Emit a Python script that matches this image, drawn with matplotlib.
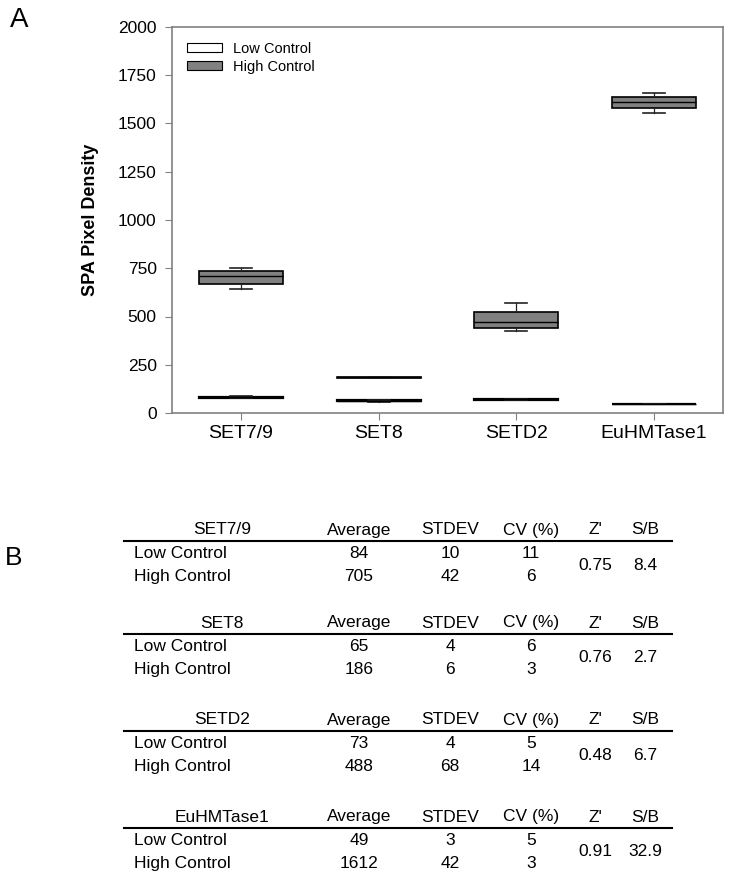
import numpy as np
import matplotlib
matplotlib.use('Agg')
import matplotlib.pyplot as plt
from matplotlib.patches import Patch

plt.rcParams['font.family'] = ['Liberation Sans', 'DejaVu Sans']

# panel A: box statistics
groups = ['SET7/9', 'SET8', 'SETD2', 'EuHMTase1']
low_whislo = [76, 58, 67, 45]
low_q1 = [79, 61, 69, 46]
low_med = [81, 63, 71, 47]
low_q3 = [83, 65, 73, 48]
low_whishi = [86, 67, 75, 49]
high_whislo = [644, 180, 425, 1552]
high_q1 = [667, 182, 440, 1578]
high_med = [711, 184, 471, 1609]
high_q3 = [736, 186, 523, 1635]
high_whishi = [751, 188, 568, 1659]
yticks = [0, 250, 500, 750, 1000, 1250, 1500, 1750, 2000]

# panel B: summary table
tbl_cols = ['Average', 'STDEV', 'CV (%)', "Z'", 'S/B']
tbl_rows = ['Low Control', 'High Control']
tbl_avg = [[84, 705], [65, 186], [73, 488], [49, 1612]]
tbl_sd = [[10, 42], [4, 6], [4, 68], [3, 42]]
tbl_cv = [[11, 6], [6, 3], [5, 14], [5, 3]]
tbl_z = ['0.75', '0.76', '0.48', '0.91']
tbl_sb = ['8.4', '2.7', '6.7', '32.9']


def make_stats(wlo, q1, med, q3, whi):
    return [dict(whislo=a, q1=b, med=c, q3=d, whishi=e, fliers=[])
            for a, b, c, d, e in zip(wlo, q1, med, q3, whi)]


W, H = 729, 882
fig = plt.figure(figsize=(W / 100, H / 100), dpi=100)
ax = fig.add_axes([172 / W, 1 - 413 / H, (723 - 172) / W, (413 - 27) / H])

pos = np.arange(1, len(groups) + 1)
spine_c = '#808080'
for stats, fc, lw in [(make_stats(low_whislo, low_q1, low_med, low_q3, low_whishi), 'white', 1.6),
                      (make_stats(high_whislo, high_q1, high_med, high_q3, high_whishi), '#808080', 1.2)]:
    ax.bxp(stats, positions=pos, widths=0.61, patch_artist=True, showfliers=False,
           capwidths=0.16,
           boxprops=dict(facecolor=fc, edgecolor='black', linewidth=lw),
           medianprops=dict(color='black', linewidth=1.0),
           whiskerprops=dict(color='#222222', linewidth=0.9),
           capprops=dict(color='#222222', linewidth=1.2))

ax.set_xlim(0.5, 4.5)
ax.set_ylim(0, 2000)
ax.set_yticks(yticks)
ax.set_xticks(pos)
ax.set_xticklabels(groups, fontsize=14)
ax.tick_params(axis='y', labelsize=12.5, length=5, color=spine_c, pad=6)
ax.tick_params(axis='x', length=5, color=spine_c, pad=4)
for sp in ax.spines.values():
    sp.set_color(spine_c)
    sp.set_linewidth(1.2)
ax.set_ylabel('SPA Pixel Density', fontsize=13, fontweight='bold', labelpad=14)

handles = [Patch(facecolor='white', edgecolor='black', linewidth=0.8),
           Patch(facecolor='#808080', edgecolor='black', linewidth=0.8)]
ax.legend(handles, ['Low Control', 'High Control'], loc='upper left',
          bbox_to_anchor=(0.0, 1.0), frameon=False, fontsize=10.5,
          handlelength=2.4, handleheight=0.6, handletextpad=0.8,
          labelspacing=0.3, borderpad=0.5)

fig.text(10 / W, 1 - 20 / H, 'A', fontsize=20, va='center', ha='left')
fig.text(5 / W, 1 - 558 / H, 'B', fontsize=19, va='center', ha='left')

# table layout (pixel positions)
col_x = [359, 450, 531, 595, 645]
title_x = 222
row_label_x = 134
line_x0, line_x1 = 124, 672
block_top = [530, 623, 720, 817]
fs = 12.5
for i, g in enumerate(groups):
    yh = block_top[i]
    fig.text(title_x / W, 1 - yh / H, g, fontsize=fs, ha='center', va='center')
    for cx, c in zip(col_x, tbl_cols):
        fig.text(cx / W, 1 - yh / H, c, fontsize=fs, ha='center', va='center')
    yl = yh + 10.5
    fig.add_artist(plt.Line2D([line_x0 / W, line_x1 / W], [1 - yl / H, 1 - yl / H],
                              color='black', linewidth=1.5))
    for r, lab in enumerate(tbl_rows):
        yr = yh + 23.5 + r * 23
        fig.text(row_label_x / W, 1 - yr / H, lab, fontsize=fs, ha='left', va='center')
        fig.text(col_x[0] / W, 1 - yr / H, str(tbl_avg[i][r]), fontsize=fs, ha='center', va='center')
        fig.text(col_x[1] / W, 1 - yr / H, str(tbl_sd[i][r]), fontsize=fs, ha='center', va='center')
        fig.text(col_x[2] / W, 1 - yr / H, str(tbl_cv[i][r]), fontsize=fs, ha='center', va='center')
    ym = yh + 35
    fig.text(col_x[3] / W, 1 - ym / H, tbl_z[i], fontsize=fs, ha='center', va='center')
    fig.text(col_x[4] / W, 1 - ym / H, tbl_sb[i], fontsize=fs, ha='center', va='center')

fig.savefig('out.png', dpi=100)
